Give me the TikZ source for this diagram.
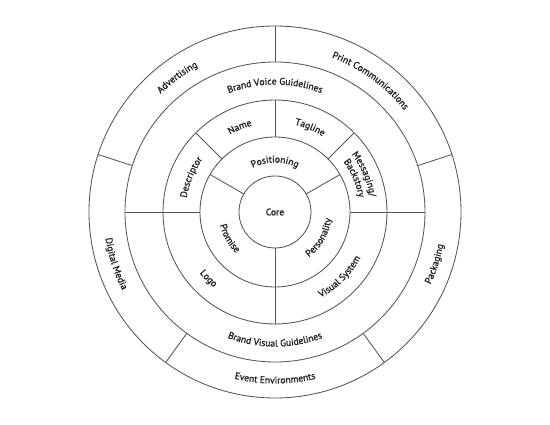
\documentclass[tikz,border=0pt]{standalone}
\usepackage{fontspec}
\setmainfont{PT Sans}
\newfontfamily\lblfam{PT Sans}[FakeBold=1.2]
\usetikzlibrary{decorations.text}
\definecolor{linegray}{HTML}{555555}
\definecolor{txt}{HTML}{231F20}
\newcommand\lblfont{\lblfam\fontsize{9.6}{9.6}\selectfont\color{txt}}
% clockwise text (tops outward): angle, baseline radius, half span, text
\newcommand\cwtext[4]{\path[decorate,decoration={text along path,text align=center,text={|\lblfont|#4}}] ({#1+#3}:#2) arc[start angle={#1+#3}, end angle={#1-#3}, radius=#2];}
% counter-clockwise text (tops inward)
\newcommand\ccwtext[4]{\path[decorate,decoration={text along path,text align=center,text={|\lblfont|#4}}] ({#1-#3}:#2) arc[start angle={#1-#3}, end angle={#1+#3}, radius=#2];}
\begin{document}
\begin{tikzpicture}[x=1pt,y=1pt,
  ringline/.style={draw=linegray, line width=0.85pt}]
\fill[white] (-275,-213) rectangle (275,212);
\useasboundingbox (-275,-213) rectangle (275,212);
% circles
\foreach \r in {36,75,112,150,186} \draw[ringline] (0,0) circle[radius=\r];
% ring 1 dividers
\draw[ringline] (30:36) -- (30:75);
\draw[ringline] (150:36) -- (150:75);
\draw[ringline] (270:36) -- (270:112);
% ring 2 dividers
\draw[ringline] (45:75) -- (45:112);
\draw[ringline] (90:75) -- (90:112);
\draw[ringline] (135:75) -- (135:112);
% ring 2+3 dividers
\draw[ringline] (0:75) -- (0:150);
\draw[ringline] (180:75) -- (180:150);
% ring 4 dividers
\foreach \a in {18,90,162,234,306} \draw[ringline] (\a:150) -- (\a:186);
% core
\node[text=txt, font=\lblfont] (core) at (0,0) {Core};
% ring 1
\cwtext{90}{49.5}{70}{Positioning}
\ccwtext{210}{56.5}{70}{Promise}
\ccwtext{330}{56.5}{70}{Personality}
% ring 2
\cwtext{112.5}{89.5}{45}{Name}
\cwtext{67.5}{89.5}{45}{Tagline}
\cwtext{157.5}{89.5}{45}{Descriptor}
\cwtext{23}{96}{45}{Messaging/}
\cwtext{23}{85}{45}{Backstory}
\ccwtext{225}{97}{45}{Logo}
\ccwtext{315}{97}{45}{Visual System}
% ring 3
\cwtext{90}{127.5}{60}{Brand Voice Guidelines}
\ccwtext{270}{134.5}{60}{Brand Visual Guidelines}
% ring 4
\cwtext{126}{164.5}{45}{Advertising}
\cwtext{54}{164.5}{45}{Print Communications}
\ccwtext{342}{171.5}{45}{Packaging}
\ccwtext{270}{171.5}{45}{Event Environments}
\ccwtext{198}{171.5}{45}{Digital Media}
\end{tikzpicture}
\end{document}
